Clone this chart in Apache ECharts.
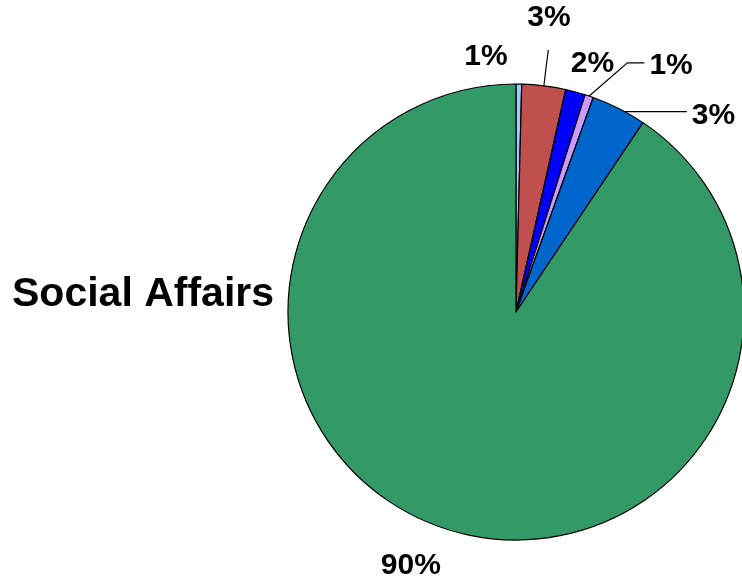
<!DOCTYPE html>
<html>
<head>
<meta charset="utf-8">
<script src="https://cdn.jsdelivr.net/npm/echarts@6/dist/echarts.min.js"></script>
<style>html,body{margin:0;padding:0;background:#fff}#c{width:742px;height:578px}</style>
</head>
<body>
<div id="c"></div>
<script>
const categories = ['Item A', 'Item B', 'Item C', 'Item D', 'Item E', 'Social Affairs'];
const values = [0.4, 3.1, 1.4, 0.6, 3.9, 90.6];
const percentLabels = ['1%', '3%', '2%', '1%', '3%', '90%'];
const colors = ['#99ccff', '#c0504d', '#0000ff', '#cc99ff', '#0066cc', '#339966'];

const lineShow = [false, true, false, true, true, false];
const lineLen = [30, 36, 28, 35, 0, 30];
const lineLen2 = [0, 0, 0, 44, 68, 0];
const labelShift = [[-60, 3], [-26, -32], [-17, -1], [0, 3], [0, 7], [5, 7]];
const bendShift = [[0, 0], [0, 0], [0, 0], [27, 0], [0, 3], [0, 0]];

const chart = echarts.init(document.getElementById('c'), null, {renderer: 'canvas'});
chart.setOption({
  animation: false,
  backgroundColor: '#ffffff',
  title: {
    text: 'Social Affairs',
    left: 7, top: 269,
    textStyle: {fontFamily: 'Liberation Sans', fontWeight: 'bold', fontSize: 41, color: '#000'}
  },
  series: [{
    type: 'pie',
    center: [516, 312],
    radius: [0, 228],
    startAngle: 90,
    clockwise: true,
    avoidLabelOverlap: false,
    itemStyle: {borderColor: '#000', borderWidth: 1.2},
    label: {
      show: true,
      position: 'outside',
      alignTo: 'none',
      fontFamily: 'Liberation Sans',
      fontWeight: 'bold',
      fontSize: 30,
      color: '#000',
      formatter: p => percentLabels[p.dataIndex]
    },
    labelLine: {lineStyle: {color: '#000', width: 1.2}},
    labelLayout: p => {
      const i = p.dataIndex;
      const out = {dx: labelShift[i][0], dy: labelShift[i][1]};
      const pts = p.labelLinePoints;
      if (pts && pts.length === 3 && (bendShift[i][0] || bendShift[i][1])) {
        out.labelLinePoints = [
          pts[0],
          [pts[1][0] + bendShift[i][0], pts[1][1] + bendShift[i][1]],
          [pts[2][0], pts[2][1] + bendShift[i][1]]
        ];
      }
      return out;
    },
    data: categories.map((name, i) => ({
      name,
      value: values[i],
      itemStyle: {color: colors[i]},
      labelLine: {show: lineShow[i], length: lineLen[i], length2: lineLen2[i]}
    }))
  }]
});
</script>
</body>
</html>
